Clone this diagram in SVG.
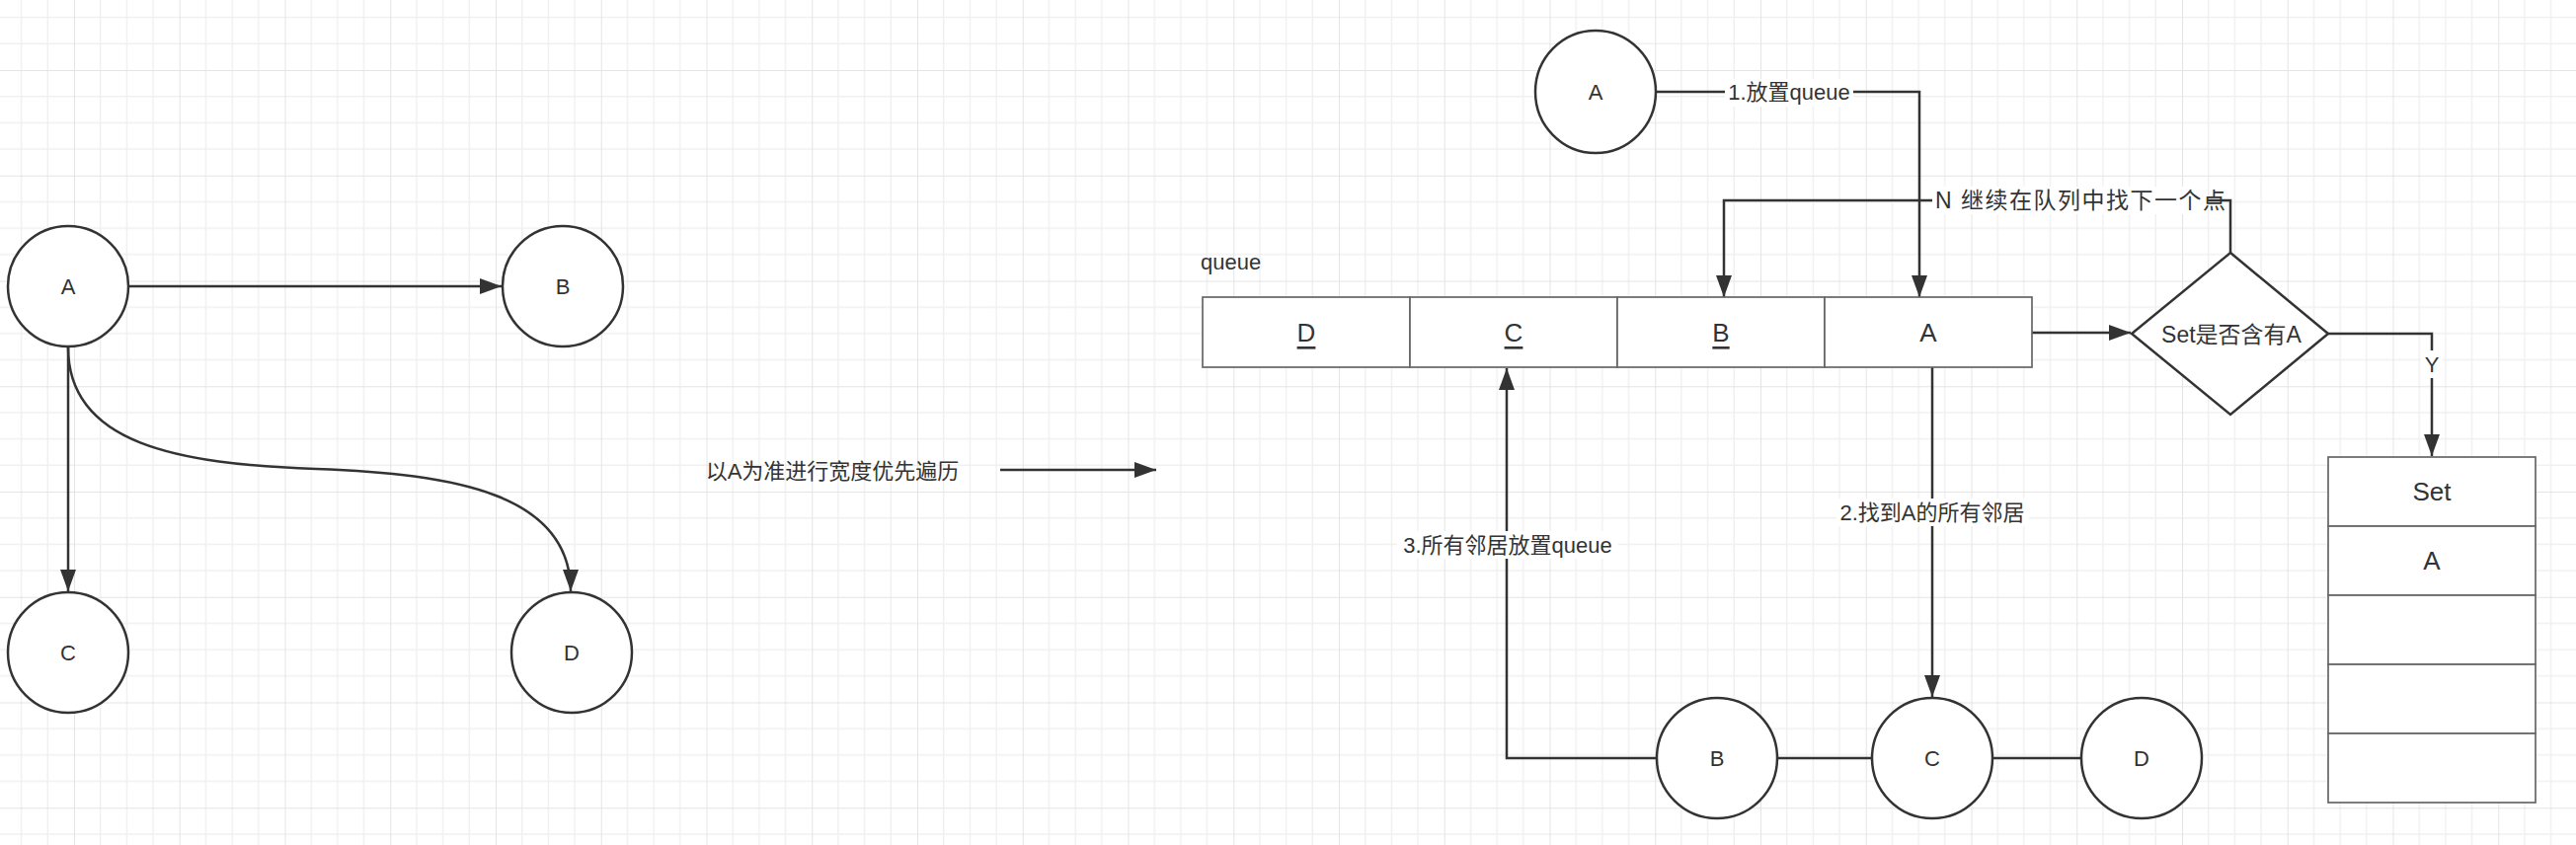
<svg xmlns="http://www.w3.org/2000/svg" width="2609" height="856" viewBox="0 0 2609 856">
<defs>
<pattern id="grid" patternUnits="userSpaceOnUse" x="75" y="71" width="106.75" height="106.75">
<rect width="106.75" height="106.75" fill="#ffffff"/>
<path d="M26.69,0V106.75M53.38,0V106.75M80.06,0V106.75M0,26.69H106.75M0,53.38H106.75M0,80.06H106.75" stroke="#f0f0f0" stroke-width="1.4" fill="none"/>
<path d="M0,0V106.75M0,0H106.75" stroke="#e4e4e4" stroke-width="2" fill="none"/>
</pattern>
<marker id="arr" markerUnits="userSpaceOnUse" markerWidth="24" markerHeight="18" refX="22" refY="8" orient="auto">
<path d="M0,0 L22,8 L0,16 Z" fill="#333"/>
</marker>
<style>
.t{font-family:"Liberation Sans","Noto Sans CJK SC",sans-serif;fill:#333;font-size:22px;text-anchor:middle;dominant-baseline:central}
.big{font-size:26px}
.u{text-decoration:underline}
.circ{fill:#fff;stroke:#333;stroke-width:2.5}
.edge{fill:none;stroke:#333;stroke-width:2.5}
.cell{fill:#fff;stroke:#666;stroke-width:1.7}
.lbg{fill:#fff}
</style>
</defs>
<rect width="2609" height="856" fill="url(#grid)"/>

<g id="connectors">
<path class="edge" d="M131,290 H508" marker-end="url(#arr)"/>
<path class="edge" d="M69,352 V599" marker-end="url(#arr)"/>
<path class="edge" d="M69,352 C69,450 180,470 320,475 C460,480 578,500 578,599" marker-end="url(#arr)"/>
<path class="edge" d="M1013,476 H1171" marker-end="url(#arr)"/>
<path class="edge" d="M1677,93 H1944 V301" marker-end="url(#arr)"/>
<path class="edge" d="M2259,256 V203 H1746 V301" marker-end="url(#arr)"/>
<path class="edge" d="M2058,337 H2158" marker-end="url(#arr)"/>
<path class="edge" d="M2358,338 H2463 V462" marker-end="url(#arr)"/>
<path class="edge" d="M1957,372 V706" marker-end="url(#arr)"/>
<path class="edge" d="M1678,768 H1526 V373" marker-end="url(#arr)"/>
<path class="edge" d="M1800,768 H1896"/>
<path class="edge" d="M2018,768 H2108"/>
<rect class="lbg" x="1747" y="80" width="130" height="28"/>
<text class="t" x="1812" y="93">1.放置queue</text>
<rect class="lbg" x="1957" y="189" width="279" height="28"/>
<text class="t" x="1960" y="203" style="font-size:23px;letter-spacing:1.5px;text-anchor:start">N 继续在队列中找下一个点</text>
<rect class="lbg" x="2452" y="355" width="22" height="28"/>
<text class="t" x="2463" y="369">Y</text>
<rect class="lbg" x="1860" y="505" width="195" height="28"/>
<text class="t" x="1957" y="519">2.找到A的所有邻居</text>
<rect class="lbg" x="1415" y="538" width="224" height="28"/>
<text class="t" x="1527" y="552">3.所有邻居放置queue</text>
</g>

<g id="left-A"><ellipse class="circ" cx="69" cy="290" rx="61" ry="61"/><text class="t" x="69" y="290">A</text></g>
<g id="left-B"><ellipse class="circ" cx="570" cy="290" rx="61" ry="61"/><text class="t" x="570" y="290">B</text></g>
<g id="left-C"><ellipse class="circ" cx="69" cy="661" rx="61" ry="61"/><text class="t" x="69" y="661">C</text></g>
<g id="left-D"><ellipse class="circ" cx="579" cy="661" rx="61" ry="61"/><text class="t" x="579" y="661">D</text></g>

<g id="caption"><text class="t" x="843" y="477">以A为准进行宽度优先遍历</text></g>

<g id="top-A"><ellipse class="circ" cx="1616" cy="93" rx="61" ry="62"/><text class="t" x="1616" y="93">A</text></g>

<g id="queue">
<text class="t" x="1216" y="265" style="text-anchor:start">queue</text>
<rect class="cell" x="1218" y="301" width="210" height="71"/>
<rect class="cell" x="1428" y="301" width="210" height="71"/>
<rect class="cell" x="1638" y="301" width="210" height="71"/>
<rect class="cell" x="1848" y="301" width="210" height="71"/>
<text class="t big u" x="1323" y="337">D</text>
<text class="t big u" x="1533" y="337">C</text>
<text class="t big u" x="1743" y="337">B</text>
<text class="t big" x="1953" y="337">A</text>
</g>

<g id="decision">
<path d="M2259,256 L2358,338 L2259,420 L2159,338 Z" fill="#fff" stroke="#333" stroke-width="2.5"/>
<text class="t" x="2260" y="339" style="font-size:23px">Set是否含有A</text>
</g>

<g id="set">
<rect class="cell" x="2358" y="463" width="210" height="70"/>
<rect class="cell" x="2358" y="533" width="210" height="70"/>
<rect class="cell" x="2358" y="603" width="210" height="70"/>
<rect class="cell" x="2358" y="673" width="210" height="70"/>
<rect class="cell" x="2358" y="743" width="210" height="70"/>
<text class="t big" x="2463" y="498">Set</text>
<text class="t big" x="2463" y="568">A</text>
</g>

<g id="bottom-B"><ellipse class="circ" cx="1739" cy="768" rx="61" ry="61"/><text class="t" x="1739" y="768">B</text></g>
<g id="bottom-C"><ellipse class="circ" cx="1957" cy="768" rx="61" ry="61"/><text class="t" x="1957" y="768">C</text></g>
<g id="bottom-D"><ellipse class="circ" cx="2169" cy="768" rx="61" ry="61"/><text class="t" x="2169" y="768">D</text></g>
</svg>
